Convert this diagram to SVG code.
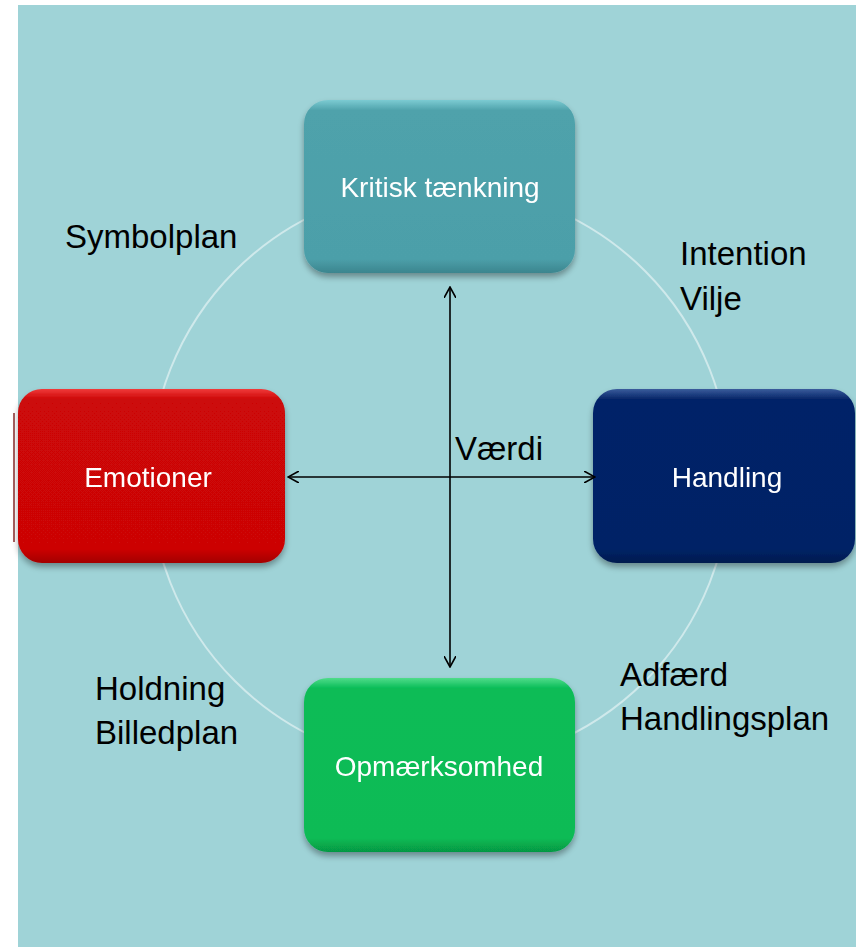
<svg xmlns="http://www.w3.org/2000/svg" width="856" height="947" viewBox="0 0 856 947">
<style>
.lbl{font-family:"Liberation Sans",Arial,sans-serif;font-size:33px;fill:#000}
.box{font-family:"Liberation Sans",Arial,sans-serif;font-size:28px;fill:#fff;text-anchor:middle}
.con{stroke:#000;stroke-width:1.6;fill:none}
</style>
<defs>
<filter id="sh" x="-10%" y="-10%" width="120%" height="130%">
<feGaussianBlur in="SourceAlpha" stdDeviation="3"/>
<feOffset dx="0" dy="4"/>
<feComponentTransfer><feFuncA type="linear" slope="0.35"/></feComponentTransfer>
<feMerge><feMergeNode/><feMergeNode in="SourceGraphic"/></feMerge>
</filter>
<linearGradient id="gT" x1="0" y1="0" x2="0" y2="1">
<stop offset="0" stop-color="#7ccbd2"/><stop offset="0.06" stop-color="#4fa2ab"/><stop offset="0.92" stop-color="#4c9fa9"/><stop offset="1" stop-color="#3b858e"/>
</linearGradient>
<linearGradient id="gR" x1="0" y1="0" x2="0" y2="1">
<stop offset="0" stop-color="#f03a3a"/><stop offset="0.06" stop-color="#cc0707"/><stop offset="0.92" stop-color="#cc0606"/><stop offset="1" stop-color="#a30404"/>
</linearGradient>
<linearGradient id="gB" x1="0" y1="0" x2="0" y2="1">
<stop offset="0" stop-color="#3a5c9c"/><stop offset="0.06" stop-color="#062467"/><stop offset="0.92" stop-color="#052366"/><stop offset="1" stop-color="#031a4e"/>
</linearGradient>
<linearGradient id="gG" x1="0" y1="0" x2="0" y2="1">
<stop offset="0" stop-color="#4fdc8a"/><stop offset="0.06" stop-color="#09bc57"/><stop offset="0.92" stop-color="#08bb55"/><stop offset="1" stop-color="#069843"/>
</linearGradient>
<marker id="ah" viewBox="0 0 12 12" refX="11" refY="6" markerWidth="12" markerHeight="12" markerUnits="userSpaceOnUse" orient="auto-start-reverse">
<path d="M0,0 L11,6 L0,12" fill="none" stroke="#000" stroke-width="1.6"/>
</marker>
</defs>
<rect x="18" y="5" width="838" height="942" fill="#9fd3d7"/>
<circle cx="440" cy="476" r="290" fill="none" stroke="#cfe9eb" stroke-width="2"/>
<line x1="14" y1="413" x2="14" y2="542" stroke="#8a2a2a" stroke-width="1.5"/>
<g id="kritisk" filter="url(#sh)">
<rect x="304" y="100" width="271" height="173" rx="24" fill="url(#gT)"/>
<text class="box" x="440" y="197">Kritisk tænkning</text>
</g>
<g id="emotioner" filter="url(#sh)">
<rect x="18" y="389" width="267" height="174" rx="24" fill="url(#gR)"/>
<text class="box" x="148" y="487">Emotioner</text>
</g>
<g id="handling" filter="url(#sh)">
<rect x="593" y="389" width="262" height="174" rx="24" fill="url(#gB)"/>
<text class="box" x="727" y="487">Handling</text>
</g>
<g id="opmaerksomhed" filter="url(#sh)">
<rect x="304" y="678" width="271" height="174" rx="24" fill="url(#gG)"/>
<text class="box" x="439" y="776">Opmærksomhed</text>
</g>
<g id="connectors">
<line class="con" x1="450" y1="287" x2="450" y2="667" marker-start="url(#ah)" marker-end="url(#ah)"/>
<line class="con" x1="288" y1="477" x2="595" y2="477" marker-start="url(#ah)" marker-end="url(#ah)"/>
</g>
<g id="labels">
<text class="lbl" x="65" y="248">Symbolplan</text>
<text class="lbl" x="680" y="265">Intention</text>
<text class="lbl" x="680" y="310">Vilje</text>
<text class="lbl" x="455" y="460">Værdi</text>
<text class="lbl" x="95" y="700">Holdning</text>
<text class="lbl" x="95" y="744">Billedplan</text>
<text class="lbl" x="620" y="686">Adfærd</text>
<text class="lbl" x="620" y="730">Handlingsplan</text>
</g>
</svg>
